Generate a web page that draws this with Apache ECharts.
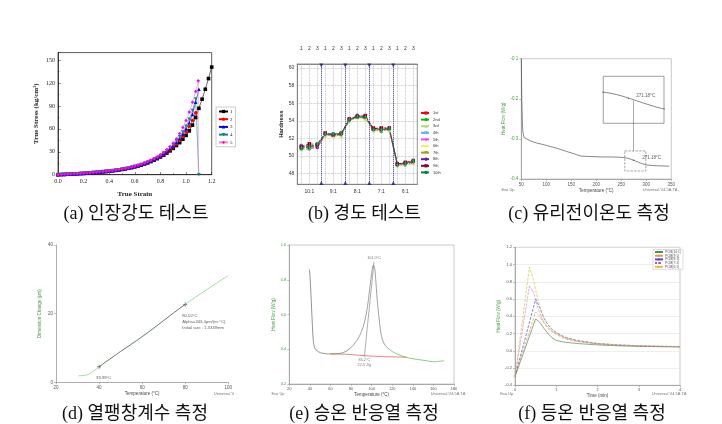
<!DOCTYPE html>
<html><head><meta charset="utf-8">
<script src="https://cdn.jsdelivr.net/npm/echarts@6/dist/echarts.min.js"></script>
<style>html,body{margin:0;padding:0;background:#fff}#c{width:722px;height:424px}</style>
</head><body><div id="c"></div>
<script>
// ---------- (a) tensile test ----------
const STRAIN = [0,0.025,0.05,0.075,0.1,0.125,0.15,0.175,0.2,0.225,0.25,0.275,0.3,0.325,0.35,0.375,0.4,0.425,0.45,0.475,0.5,0.525,0.55,0.575,0.6,0.625,0.65,0.675,0.7,0.725,0.75,0.775,0.8,0.825,0.85,0.875,0.9,0.925,0.95,0.975,1.0,1.025,1.05,1.075,1.1,1.125,1.15,1.175,1.2];
const A_NAMES = ['1','2','3','4','5'];
const STRESS_1 = [0,0.2,0.4,0.6,0.8,1.0,1.2,1.5,1.8,2.1,2.4,2.7,3.0,3.4,3.8,4.2,4.6,5.1,5.6,6.2,6.9,7.6,8.4,9.3,10.3,11.4,12.6,14.0,15.5,17.2,19.0,21.0,23.2,25.6,28.3,31.2,34.5,38.2,42.0,46.5,51.5,57.5,65.0,75.0,87.0,99.0,112.0,126.0,141.0];
const STRESS_2 = [0,0.2,0.4,0.6,0.8,1.0,1.2,1.5,1.8,2.1,2.4,2.8,3.1,3.5,3.9,4.3,4.7,5.2,5.7,6.3,7.0,7.7,8.5,9.4,10.5,11.6,12.9,14.3,15.9,17.6,19.5,21.6,23.9,26.5,29.4,32.6,36.2,40.3,44.9,50.0,56.0,63.0,71.0,81.0];
const STRESS_3 = [0,0.2,0.4,0.6,0.8,1.0,1.3,1.5,1.8,2.1,2.5,2.8,3.2,3.5,3.9,4.3,4.8,5.3,5.8,6.4,7.1,7.8,8.7,9.6,10.7,11.9,13.2,14.6,16.2,18.0,19.9,22.1,24.6,27.4,30.5,34.0,38.0,42.5,47.6,53.4,60.0,68.0,79.0,95.0,112.0];
const STRESS_4 = [0,0.2,0.4,0.6,0.9,1.1,1.3,1.6,1.9,2.2,2.5,2.9,3.2,3.6,4.0,4.4,4.9,5.4,5.9,6.5,7.2,8.0,8.8,9.8,10.9,12.1,13.4,14.9,16.5,18.3,20.3,22.6,25.2,28.1,31.4,35.1,39.3,44.1,49.6,55.9,63.5,72.5,84.0,99.0];
const STRESS_5 = [0,0.3,0.5,0.7,0.9,1.2,1.4,1.7,2.0,2.3,2.7,3.0,3.4,3.8,4.2,4.6,5.1,5.6,6.2,6.8,7.5,8.3,9.2,10.2,11.3,12.6,14.0,15.5,17.2,19.1,21.2,23.6,26.3,29.4,32.9,36.9,41.4,47.0,54.0,62.0,71.0,82.0,95.0,109.0];
const A_TAIL = [[], [], [], [], [[1.095,123]]];
const A_DROP = [null, null, null, [1.1,0], [1.095,0]];

// ---------- (b) hardness ----------
const GROUPS_B = ['10:1','9:1','8:1','7:1','6:1'];
const TOP_B = ['1','2','3'];
const B_NAMES = ['1st','2nd','3rd','4th','5th','6th','7th','8th','9th','10th'];
const HARD_1 = [51.1,51.0,51.3,52.6,52.4,52.5,54.2,54.5,54.5,53.2,53.1,53.1,49.1,49.1,49.3];
const HARD_2 = [50.8,50.8,51.1,52.5,52.3,52.4,54.0,54.4,54.3,53.0,52.8,53.0,49.0,49.0,49.2];
const HARD_3 = [51.0,51.1,51.0,52.3,52.4,52.3,54.0,54.4,54.2,52.9,53.0,52.9,48.9,49.1,49.2];
const HARD_4 = [50.9,51.2,51.2,52.4,52.5,52.6,54.1,54.6,54.4,53.1,53.0,53.1,49.1,49.2,49.4];
const HARD_5 = [51.0,50.9,50.9,52.4,52.3,52.5,54.2,54.4,54.3,53.0,52.9,53.0,49.0,49.1,49.3];
const HARD_6 = [51.1,51.0,51.1,52.3,52.2,52.3,54.0,54.3,54.2,52.8,52.9,52.9,49.0,49.0,49.2];
const HARD_7 = [51.0,51.2,51.2,52.5,52.4,52.4,54.1,54.5,54.4,53.1,53.1,53.0,49.1,49.2,49.3];
const HARD_8 = [51.2,51.1,51.0,52.5,52.5,52.5,54.1,54.6,54.5,53.2,53.0,53.1,49.2,49.1,49.4];
const HARD_9 = [51.0,51.4,51.3,52.6,52.4,52.6,54.2,54.5,54.6,53.1,53.2,53.2,49.1,49.3,49.5];
const HARD_10 = [50.9,51.0,51.4,52.5,52.5,52.6,54.1,54.4,54.4,53.0,53.0,53.1,49.0,49.2,49.5];

// ---------- (c) glass transition DSC ----------
const DSC_C_T  = [50,50.5,51,52,53,54,56,60,70,80,100,120,140,160,170,190,210,230,250,257,262,270,280,290,300,320,346];
const DSC_C_HF = [-0.10,-0.15,-0.20,-0.255,-0.28,-0.29,-0.297,-0.301,-0.306,-0.310,-0.316,-0.323,-0.331,-0.339,-0.343,-0.344,-0.345,-0.345,-0.346,-0.347,-0.348,-0.351,-0.356,-0.361,-0.365,-0.367,-0.368];
const C_ZOOM_T = [257, 299];
const C_ZOOM_HF = [-0.380, -0.330];
const C_TG = [274.5, -0.3535];
const C_TG_LABEL = '271.18°C';

// ---------- (d) thermal expansion ----------
const DIL_T  = [30.4,32,34,36,38,40,43,46,50,55,60,65,70,75,80,85,90,95,100];
const DIL_DL = [1.9,1.95,2.1,2.6,3.5,4.5,5.9,7.2,9.0,11.1,13.3,15.6,18.0,20.4,22.7,24.9,27.0,29.1,31.1];
const D_MARKS = [[40,4.5],[80,22.7]];
const D_LABELS = ['39.99°C', '80.02°C\nAlpha=343.4μm/(m·°C)\nInitial size : 1.3339mm'];

// ---------- (e) dynamic DSC ----------
const DSC_E_T  = [39.4,40.1,41.7,42.5,43.3,44.9,48.2,53,59.5,69.2,75.7,82.2,88.7,93.5,96.8,100,101.6,103.2,104.9,107.4,109.7,113,117.8,124.3,134,143.7,153.4,159.9,170.3];
const DSC_E_HF = [0.86,0.82,0.63,0.53,0.45,0.405,0.386,0.376,0.373,0.376,0.39,0.424,0.482,0.568,0.683,0.837,0.885,0.856,0.72,0.568,0.472,0.424,0.396,0.373,0.353,0.342,0.334,0.328,0.334];
const E_BASE_T  = [59.5,76,93,110,134];
const E_BASE_HF = [0.373,0.371,0.363,0.358,0.354];
const E_PEAK  = [102.3,0.904];
const E_ONSET = [92.9,0.357];

// ---------- (f) isothermal DSC ----------
const F_NAMES = ['PCM(10:1)','PCM(9:1)','PCM(8:1)','PCM(7:1)','PCM(6:1)'];
const ISO_TIME_A = [0,0.5,0.6,0.7,0.8,0.9,1.0,1.2,1.5,2.0,2.5,3.0,3.5,4.0];
const ISO_TIME_B = [0,0.35,0.45,0.55,0.65,0.75,0.9,1.0,1.2,1.5,2.0,2.5,3.0,3.5,4.0];
const ISO_1 = [-0.3,0.37,0.33,0.26,0.2,0.15,0.12,0.1,0.085,0.068,0.058,0.052,0.048,0.045];
const ISO_2 = [-0.3,0.45,0.4,0.32,0.26,0.22,0.19,0.14,0.11,0.08,0.064,0.055,0.05,0.047];
const ISO_3 = [-0.3,0.6,0.5,0.38,0.3,0.25,0.21,0.16,0.12,0.085,0.068,0.058,0.052,0.048];
const ISO_4 = [-0.3,0.75,0.68,0.5,0.38,0.3,0.23,0.2,0.15,0.11,0.08,0.065,0.055,0.05,0.048];
const ISO_5 = [-0.3,0.97,0.82,0.6,0.44,0.34,0.25,0.21,0.16,0.12,0.085,0.07,0.06,0.055,0.05];

// ---------- captions ----------
const CAPTIONS = [
  ['(a) 인장강도 테스트', 136, 214], ['(b) 경도 테스트', 364.5, 214], ['(c) 유리전이온도 측정', 589, 214],
  ['(d) 열팽창계수 측정', 135, 414], ['(e) 승온 반응열 측정', 364, 414], ['(f) 등온 반응열 측정', 592, 414]
];

// ====================================================
const SERIF = '"Liberation Serif", serif';
const SANS = '"Liberation Sans", Arial, sans-serif';
const GREEN = '#3f9e3f';
const TRI_DOWN = 'path://M0,0L10,0L5,9Z';
const TRI_LEFT = 'path://M9,0L9,10L0,5Z';
const HEX = 'path://M3,0L7,0L10,5L7,10L3,10L0,5Z';

function merge(a, b) {
  const o = Object.assign({}, a);
  for (const k in b) {
    if (b[k] && typeof b[k] === 'object' && !Array.isArray(b[k]) && a[k] && typeof a[k] === 'object') o[k] = merge(a[k], b[k]);
    else o[k] = b[k];
  }
  return o;
}
const zip = (xs, ys) => ys.map((y, i) => [xs[i], y]);

const SMALL = {
  axisLine: {show: true, onZero: false, lineStyle: {color: '#999', width: 0.8}},
  axisTick: {show: true, length: 2, lineStyle: {color: '#999', width: 0.6}},
  axisLabel: {fontSize: 4.5, color: '#555', fontFamily: SANS, margin: 3},
  splitLine: {show: false},
  nameLocation: 'middle',
  nameTextStyle: {fontSize: 4.5, color: '#444', fontFamily: SANS}
};

const CAT_B = [];
GROUPS_B.forEach(g => TOP_B.forEach(t => CAT_B.push(g + '-' + t)));
const SEP_B = [3, 6, 9, 12];
const CENTER_B = CAT_B.map((_, i) => i + 0.5);

const series = [];

// (a)
const A_STRESS = [STRESS_1, STRESS_2, STRESS_3, STRESS_4, STRESS_5];
const A_COLORS = ['#000000', '#ff0000', '#0000ff', '#008b8b', '#ff00ff'];
const A_SYMBOLS = ['rect', 'circle', 'triangle', TRI_DOWN, 'diamond'];
A_STRESS.forEach((arr, k) => {
  let data = arr.map((v, i) => [STRAIN[i], v]).concat(A_TAIL[k]);
  if (A_DROP[k]) data.push({value: A_DROP[k], symbol: k === 3 ? A_SYMBOLS[k] : 'none'});
  series.push({
    name: A_NAMES[k], type: 'line', xAxisIndex: 0, yAxisIndex: 0, data,
    symbol: A_SYMBOLS[k], symbolSize: 3.6, showAllSymbol: true,
    lineStyle: {width: 0.6, color: k === 4 ? '#ff80c0' : A_COLORS[k]}, itemStyle: {color: A_COLORS[k]}
  });
});

// (b)
const B_VALUES = [HARD_1, HARD_2, HARD_3, HARD_4, HARD_5, HARD_6, HARD_7, HARD_8, HARD_9, HARD_10];
const B_COLORS = ['#ff0000', '#00c000', '#b0e070', '#60a8ff', '#ff40ff', '#f0f060', '#a8a000', '#6020a0', '#900020', '#008040'];
const B_SYMBOLS = ['rect', 'circle', 'triangle', TRI_DOWN, 'diamond', TRI_LEFT, TRI_DOWN, HEX, 'rect', 'circle'];
B_VALUES.forEach((arr, k) => {
  series.push({
    name: B_NAMES[k], type: 'line', xAxisIndex: 1, yAxisIndex: 1, data: arr,
    symbol: B_SYMBOLS[k], symbolSize: 3.5, showAllSymbol: true,
    lineStyle: {width: 0.8, type: 'dashed', color: B_COLORS[k]}, itemStyle: {color: B_COLORS[k]}
  });
});
series.push({
  type: 'scatter', xAxisIndex: 3, yAxisIndex: 1, silent: true,
  data: SEP_B.map(x => [x, 60.27]), symbol: 'triangle', symbolRotate: 180, symbolSize: 4,
  itemStyle: {color: '#1a1a8c'},
  markLine: {
    silent: true, symbol: ['none', 'none'], label: {show: false},
    data: SEP_B.map(x => ({xAxis: x, lineStyle: {color: '#2a2aa0', type: 'dotted', width: 1}}))
      .concat(CENTER_B.map(x => ({xAxis: x, lineStyle: {color: '#aaa', type: 'dotted', width: 0.7}})))
  }
});
series.push({
  type: 'scatter', xAxisIndex: 3, yAxisIndex: 1, silent: true,
  data: SEP_B.map(x => [x, 46.95]), symbol: 'triangle', symbolSize: 4, itemStyle: {color: '#1a1a8c'}
});

// (c)
const C_DATA = zip(DSC_C_T, DSC_C_HF);
series.push({
  type: 'line', xAxisIndex: 4, yAxisIndex: 2, data: C_DATA, symbol: 'none', silent: true,
  lineStyle: {color: '#555', width: 0.7},
  markArea: {silent: true, itemStyle: {color: 'rgba(0,0,0,0)', borderColor: '#666', borderWidth: 0.6, borderType: 'dashed'},
    data: [[{coord: [C_ZOOM_T[0], C_ZOOM_HF[1]]}, {coord: [C_ZOOM_T[1], C_ZOOM_HF[0]]}]]},
  markLine: {silent: true, symbol: ['none', 'none'], label: {show: false}, lineStyle: {color: '#555', width: 0.5, type: 'solid'},
    data: [[{coord: [C_TG[0], -0.205]}, {coord: [C_TG[0], C_ZOOM_HF[1]]}]]}
});
series.push({
  type: 'scatter', xAxisIndex: 4, yAxisIndex: 2, data: [C_TG], symbolSize: 1.5, silent: true,
  itemStyle: {color: '#444'},
  label: {show: true, position: 'right', offset: [3, -3], formatter: C_TG_LABEL, fontSize: 4.5, color: '#333', fontFamily: SANS}
});
series.push({
  type: 'line', xAxisIndex: 5, yAxisIndex: 3, data: C_DATA, symbol: 'none', smooth: 0.3, clip: true, silent: true,
  lineStyle: {color: '#555', width: 0.7}
});
series.push({
  type: 'scatter', xAxisIndex: 5, yAxisIndex: 3, data: [C_TG], symbolSize: 1.5, silent: true,
  itemStyle: {color: '#444'},
  label: {show: true, position: 'right', offset: [2, -3], formatter: C_TG_LABEL, fontSize: 4.5, color: '#333', fontFamily: SANS}
});

// (d)
const D_IDX = series.length;
series.push({
  type: 'line', xAxisIndex: 6, yAxisIndex: 4, data: zip(DIL_T, DIL_DL), symbol: 'none', smooth: 0.3, silent: true,
  lineStyle: {width: 0.8}
});
series.push({
  type: 'scatter', xAxisIndex: 6, yAxisIndex: 4, silent: true,
  data: D_MARKS.map((p, i) => ({value: p, label: {formatter: D_LABELS[i]}})),
  symbol: 'path://M4,0H6V4H10V6H6V10H4V6H0V4H4Z', symbolSize: 4, itemStyle: {color: '#333'},
  label: {show: true, position: 'bottom', align: 'left', offset: [-3, 1], fontSize: 4.2, lineHeight: 6, color: '#333', fontFamily: SANS}
});

// (e)
const E_IDX = series.length;
series.push({
  type: 'line', xAxisIndex: 7, yAxisIndex: 5, data: zip(DSC_E_T, DSC_E_HF), symbol: 'none', smooth: 0.35, silent: true,
  lineStyle: {width: 0.8}
});
series.push({
  type: 'line', xAxisIndex: 7, yAxisIndex: 5, data: zip(E_BASE_T, E_BASE_HF), symbol: 'none', smooth: 0.3, silent: true,
  lineStyle: {width: 0.7, color: '#e05050'}
});
series.push({
  type: 'line', xAxisIndex: 7, yAxisIndex: 5, data: [E_PEAK, E_ONSET], symbol: 'none', silent: true,
  lineStyle: {width: 0.6, color: '#777'}
});
series.push({
  type: 'scatter', xAxisIndex: 7, yAxisIndex: 5, silent: true, symbolSize: 0,
  data: [{value: E_PEAK, label: {formatter: '101.0°C', position: 'top', distance: 1}},
         {value: E_ONSET, label: {formatter: '85.2°C\n22.5 J/g', position: 'bottom', distance: 1}}],
  label: {show: true, fontSize: 3.8, lineHeight: 4.8, color: '#555', fontFamily: SANS}
});

// (f)
const F_DATA = [zip(ISO_TIME_A, ISO_1), zip(ISO_TIME_A, ISO_2), zip(ISO_TIME_A, ISO_3), zip(ISO_TIME_B, ISO_4), zip(ISO_TIME_B, ISO_5)];
const F_COLORS = ['#4e8f4e', '#e69a3a', '#4b4bd6', '#c050c0', '#d4c440'];
const F_TYPES = ['solid', 'dashed', 'dashed', 'dotted', 'dashed'];
F_DATA.forEach((d, k) => {
  series.push({
    name: F_NAMES[k], type: 'line', xAxisIndex: 8, yAxisIndex: 6, data: d, symbol: 'none', silent: true,
    lineStyle: {width: 0.7, color: F_COLORS[k], type: F_TYPES[k]}, itemStyle: {color: F_COLORS[k]}
  });
});

const evenLabel = v => (Math.abs(v - Math.round(v / 2) * 2) < 1e-6) ? String(Math.round(v)) : '';

const NOTES = [
  ['Exo Up', 508, 189.7], ['Universal V4.5A TA', 660, 189.7],
  ['Universal V', 224, 394.3],
  ['Exo Up', 278, 393.7], ['Universal V4.5A TA', 448, 393.7],
  ['Exo Up', 506.7, 394.3], ['Universal V4.5A TA', 669, 394.3]
];

const option = {
  backgroundColor: '#fff',
  animation: false,
  grid: [
    {left: 58, top: 52.6, width: 153.7, height: 122.1, show: true, borderColor: '#333', borderWidth: 0.8},
    {left: 297.3, top: 64, width: 120, height: 120.3, show: true, borderColor: '#777', borderWidth: 0.8},
    {left: 521.3, top: 58.7, width: 150, height: 120.3, show: true, borderColor: '#bbb', borderWidth: 0.8},
    {left: 603.3, top: 76.3, width: 60.7, height: 47, show: true, borderColor: '#777', borderWidth: 0.7, backgroundColor: '#fff'},
    {left: 56, top: 245, width: 172.3, height: 137.3},
    {left: 289.3, top: 245, width: 164.7, height: 139, show: true, borderColor: '#bbb', borderWidth: 0.8},
    {left: 515, top: 247.3, width: 165, height: 138, show: true, borderColor: '#bbb', borderWidth: 0.8}
  ],
  xAxis: [
    {type: 'value', gridIndex: 0, min: 0, max: 1.2, interval: 0.2,
      axisLine: {onZero: false, lineStyle: {color: '#222', width: 0.8}},
      axisTick: {inside: true, length: 2.5, lineStyle: {color: '#222', width: 0.6}},
      minorTick: {show: true, splitNumber: 2, length: 1.5, lineStyle: {color: '#222', width: 0.5}},
      axisLabel: {fontSize: 6, fontFamily: SERIF, color: '#222', margin: 4, formatter: v => v.toFixed(1)},
      splitLine: {show: false}, name: 'True Strain', nameLocation: 'middle', nameGap: 16,
      nameTextStyle: {fontSize: 7, fontWeight: 'bold', fontFamily: SERIF, color: '#222'}},
    {type: 'category', gridIndex: 1, data: CAT_B, boundaryGap: true, position: 'bottom',
      axisLine: {onZero: false, lineStyle: {color: '#777', width: 0.8}}, axisTick: {show: false},
      axisLabel: {interval: 0, fontSize: 5, fontFamily: SANS, color: '#333', margin: 5,
        formatter: (v, i) => i % 3 === 1 ? GROUPS_B[(i - 1) / 3] : ''}, splitLine: {show: false}},
    {type: 'category', gridIndex: 1, data: CAT_B, boundaryGap: true, position: 'top',
      axisLine: {onZero: false, lineStyle: {color: '#777', width: 0.8}}, axisTick: {show: false},
      axisLabel: {interval: 0, fontSize: 5, fontFamily: SANS, color: '#333', margin: 13,
        formatter: (v, i) => TOP_B[i % 3]}, splitLine: {show: false}},
    {type: 'value', gridIndex: 1, min: 0, max: 15, show: false},
    merge(SMALL, {type: 'value', gridIndex: 2, min: 50, max: 350, interval: 50, name: 'Temperature (°C)', nameGap: 9}),
    {type: 'value', gridIndex: 3, min: C_ZOOM_T[0], max: C_ZOOM_T[1], show: false},
    merge(SMALL, {type: 'value', gridIndex: 4, min: 20, max: 100, interval: 20, name: 'Temperature (°C)', nameGap: 9}),
    merge(SMALL, {type: 'value', gridIndex: 5, min: 20, max: 180, interval: 20, name: 'Temperature (°C)', nameGap: 8, axisLabel: {fontSize: 4}}),
    merge(SMALL, {type: 'value', gridIndex: 6, min: 0, max: 4, interval: 1, name: 'Time (min)', nameGap: 8, axisLabel: {fontSize: 4}})
  ],
  yAxis: [
    {type: 'value', gridIndex: 0, min: 0, max: 160, interval: 30,
      axisLine: {onZero: false, lineStyle: {color: '#222', width: 0.8}},
      axisTick: {inside: true, length: 2.5, lineStyle: {color: '#222', width: 0.6}},
      minorTick: {show: true, splitNumber: 2, length: 1.5, lineStyle: {color: '#222', width: 0.5}},
      axisLabel: {fontSize: 6, fontFamily: SERIF, color: '#222', margin: 3,
        formatter: v => (v % 30 === 0 && v <= 150) ? String(v) : ''},
      splitLine: {show: false}, name: 'True Stress (kg/cm²)', nameLocation: 'middle', nameGap: 18,
      nameTextStyle: {fontSize: 7, fontWeight: 'bold', fontFamily: SERIF, color: '#222'}},
    {type: 'value', gridIndex: 1, min: 46.8, max: 60.45, minInterval: 2, maxInterval: 2,
      axisLine: {onZero: false, lineStyle: {color: '#777', width: 0.8}}, axisTick: {show: false},
      axisLabel: {fontSize: 5, fontFamily: SANS, color: '#333', margin: 3, formatter: evenLabel},
      splitLine: {show: true, lineStyle: {color: '#aaa', type: 'dotted', width: 0.7}},
      name: 'Hardness', nameLocation: 'middle', nameGap: 11,
      nameTextStyle: {fontSize: 6, fontWeight: 'bold', fontFamily: SANS, color: '#222'}},
    merge(SMALL, {type: 'value', gridIndex: 2, min: -0.4, max: -0.1, minInterval: 0.1, maxInterval: 0.1,
      axisLabel: {color: GREEN, formatter: v => v.toFixed(1)}, name: 'Heat Flow (W/g)', nameGap: 14, nameTextStyle: {color: GREEN}}),
    {type: 'value', gridIndex: 3, min: C_ZOOM_HF[0], max: C_ZOOM_HF[1], show: false},
    merge(SMALL, {type: 'value', gridIndex: 4, min: 0, max: 40, interval: 20,
      name: 'Dimension Change (μm)', nameGap: 14, nameTextStyle: {color: GREEN}}),
    merge(SMALL, {type: 'value', gridIndex: 5, min: 0.2, max: 1.0, interval: 0.2,
      axisLabel: {color: GREEN, fontSize: 4, formatter: v => v.toFixed(1)}, name: 'Heat Flow (W/g)', nameGap: 13, nameTextStyle: {color: GREEN}}),
    merge(SMALL, {type: 'value', gridIndex: 6, min: -0.4, max: 1.2, interval: 0.2,
      axisLabel: {fontSize: 4, formatter: v => v.toFixed(1)},
      splitLine: {show: true, lineStyle: {color: '#e2e2e2', width: 0.6}},
      name: 'Heat Flow (W/g)', nameGap: 14, nameTextStyle: {color: GREEN}})
  ],
  legend: [
    {data: A_NAMES, orient: 'vertical', left: 216, top: 107, itemWidth: 9, itemHeight: 4, itemGap: 2.7,
      padding: [2, 3, 2, 2], borderColor: '#999', borderWidth: 0.5, selectedMode: false,
      textStyle: {fontSize: 5, fontFamily: SERIF, color: '#222', padding: [0, 0, 0, -3]}},
    {data: B_NAMES, orient: 'vertical', left: 420, top: 111, itemWidth: 10, itemHeight: 4, itemGap: 2.6,
      padding: 0, selectedMode: false, textStyle: {fontSize: 4, fontFamily: SANS, color: '#333', padding: [0, 0, 0, -3]}},
    {data: F_NAMES, orient: 'vertical', left: 653, top: 249.5, itemWidth: 8, itemHeight: 2.5, itemGap: 0.7,
      padding: [1, 2, 1, 1], borderColor: '#bbb', borderWidth: 0.5, backgroundColor: '#fff', selectedMode: false,
      textStyle: {fontSize: 3.3, fontFamily: SANS, color: '#555', padding: [0, 0, 0, -3]}}
  ],
  visualMap: [
    {type: 'piecewise', show: false, dimension: 0, seriesIndex: D_IDX,
      pieces: [{lt: 40, color: '#8fd18f'}, {gte: 40, lte: 80, color: '#3d5a3d'}, {gt: 80, color: '#8fd18f'}]},
    {type: 'piecewise', show: false, dimension: 0, seriesIndex: E_IDX,
      pieces: [{lt: 55, color: '#777'}, {gte: 55, lt: 80, color: '#6a8f6a'}, {gte: 80, lt: 117, color: '#8a8a8a'}, {gte: 117, color: '#6cbf6c'}]}
  ],
  graphic: CAPTIONS.map(c => ({
    type: 'text', x: c[1], y: c[2], silent: true,
    style: {text: c[0], font: '18px "Liberation Serif", "Noto Sans CJK KR"', fill: '#111', textAlign: 'center', textVerticalAlign: 'middle'}
  })).concat(NOTES.map(n => ({
    type: 'text', x: n[1], y: n[2], silent: true,
    style: {text: n[0], font: '4px "Liberation Sans"', fill: '#777', textAlign: 'center', textVerticalAlign: 'middle'}
  }))),
  series
};

const chart = echarts.init(document.getElementById('c'));
chart.setOption(option);
</script></body></html>
